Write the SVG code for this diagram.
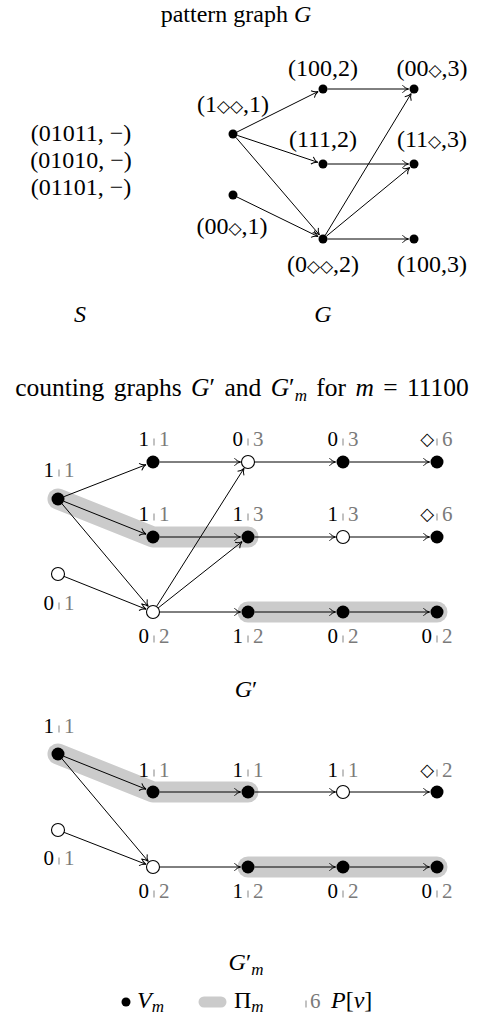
<svg xmlns="http://www.w3.org/2000/svg" width="477" height="1022" viewBox="0 0 477 1022">
<style>
.t{font-family:"Liberation Serif","DejaVu Serif",serif;font-size:24px;fill:#000}
.i{font-style:italic}
.dm{font-family:"DejaVu Sans",sans-serif;font-size:17px}
.dm2{font-family:"DejaVu Sans",sans-serif;font-size:18px}
.e{stroke:#000;stroke-width:1;fill:none;marker-end:url(#ah)}
.hl{stroke:#cbcbcb;stroke-width:21;stroke-linecap:round;stroke-linejoin:round;fill:none}
.nf{fill:#000}
.no{fill:#fff;stroke:#000;stroke-width:1.1}
.lb{font-size:21px}
.gr{fill:#7a7a7a}
.bar{fill:#9a9a9a}
.sub{font-size:17px;font-style:italic}
</style>
<defs>
<marker id="ah" viewBox="-7 -5 8 10" refX="0" refY="0" markerWidth="8" markerHeight="10" markerUnits="userSpaceOnUse" orient="auto">
<path d="M-6,-3.8 C-4.5,-1.8 -2,-0.5 0,0 C-2,0.5 -4.5,1.8 -6,3.8" fill="none" stroke="#000" stroke-width="1"/>
</marker>
</defs>
<rect width="477" height="1022" fill="#fff"/>

<!-- ===== pattern graph G ===== -->
<text class="t" x="236" y="22" text-anchor="middle">pattern graph <tspan class="i">G</tspan></text>

<g id="S-list">
<text class="t" x="81" y="141" text-anchor="middle">(01011, −)</text>
<text class="t" x="81" y="168" text-anchor="middle">(01010, −)</text>
<text class="t" x="81" y="195" text-anchor="middle">(01101, −)</text>
</g>
<text id="S-label" class="t i" x="80" y="322" text-anchor="middle">S</text>
<text id="G-label" class="t i" x="323" y="322" text-anchor="middle">G</text>

<g id="G-edges">
<line class="e" x1="237" y1="132" x2="318.1" y2="91.5"/>
<line class="e" x1="237.3" y1="135.4" x2="317.8" y2="162.3"/>
<line class="e" x1="235.9" y1="137.4" x2="319.4" y2="234.8"/>
<line class="e" x1="237" y1="197" x2="318.1" y2="236.6"/>
<line class="e" x1="327.5" y1="89" x2="408.5" y2="89"/>
<line class="e" x1="327.5" y1="164" x2="408.5" y2="164"/>
<line class="e" x1="325.3" y1="235.2" x2="411.1" y2="93.7"/>
<line class="e" x1="326.5" y1="236.1" x2="409.8" y2="167.5"/>
<line class="e" x1="327.5" y1="239" x2="408.5" y2="239"/>
</g>

<g id="g-1dd1"><circle class="nf" cx="233" cy="134" r="4.5"/><text class="t" x="233" y="112" text-anchor="middle">(1<tspan class="dm">◇◇</tspan>,1)</text></g>
<g id="g-1002"><circle class="nf" cx="323" cy="89" r="4.5"/><text class="t" x="323" y="76" text-anchor="middle">(100,2)</text></g>
<g id="g-00d3"><circle class="nf" cx="414" cy="89" r="4.5"/><text class="t" x="432" y="76" text-anchor="middle">(00<tspan class="dm">◇</tspan>,3)</text></g>
<g id="g-1112"><circle class="nf" cx="323" cy="164" r="4.5"/><text class="t" x="323" y="147" text-anchor="middle">(111,2)</text></g>
<g id="g-11d3"><circle class="nf" cx="414" cy="164" r="4.5"/><text class="t" x="432" y="147" text-anchor="middle">(11<tspan class="dm">◇</tspan>,3)</text></g>
<g id="g-00d1"><circle class="nf" cx="233" cy="195" r="4.5"/><text class="t" x="232" y="234" text-anchor="middle">(00<tspan class="dm">◇</tspan>,1)</text></g>
<g id="g-0dd2"><circle class="nf" cx="323" cy="239" r="4.5"/><text class="t" x="323" y="272" text-anchor="middle">(0<tspan class="dm">◇◇</tspan>,2)</text></g>
<g id="g-1003"><circle class="nf" cx="414" cy="239" r="4.5"/><text class="t" x="432" y="272" text-anchor="middle">(100,3)</text></g>

<!-- ===== counting graph G' ===== -->
<text class="t" x="242" y="396" text-anchor="middle" style="font-size:25.5px;word-spacing:3px">counting graphs <tspan class="i">G</tspan>′ and <tspan class="i">G</tspan>′<tspan class="sub" dy="5">m</tspan><tspan dy="-5"> for </tspan><tspan class="i">m</tspan> = 11100</text>

<g id="Gp-highlights">
<polyline class="hl" points="58,499 153,537 248,537"/>
<line class="hl" x1="248" y1="612" x2="437" y2="612"/>
</g>

<g id="Gp-edges">
<line class="e" x1="64.1" y1="496.6" x2="146" y2="464.7"/>
<line class="e" x1="64" y1="501.4" x2="146" y2="534.2"/>
<line class="e" x1="62.2" y1="504" x2="148.2" y2="606.3"/>
<line class="e" x1="64" y1="576.4" x2="146" y2="609.2"/>
<line class="e" x1="156.5" y1="606.5" x2="244" y2="468.3"/>
<line class="e" x1="158.1" y1="608" x2="242.1" y2="541.6"/>
<line class="e" x1="159.5" y1="612" x2="240.5" y2="612"/>
<line class="e" x1="159.5" y1="462" x2="240.5" y2="462"/>
<line class="e" x1="254.5" y1="462" x2="335.5" y2="462"/>
<line class="e" x1="349.5" y1="462" x2="429.5" y2="462"/>
<line class="e" x1="159.5" y1="537" x2="240.5" y2="537"/>
<line class="e" x1="254.5" y1="537" x2="335.5" y2="537"/>
<line class="e" x1="349.5" y1="537" x2="429.5" y2="537"/>
<line class="e" x1="254.5" y1="612" x2="335.5" y2="612"/>
<line class="e" x1="349.5" y1="612" x2="429.5" y2="612"/>
</g>

<g id="gp-p0"><circle class="nf" cx="58" cy="499" r="6.5"/><g transform="translate(59,477)"><text class="t lb" x="-5" text-anchor="end">1</text><rect class="bar" x="-0.6" y="-7.5" width="1.2" height="7"/><text class="t lb gr" x="5">1</text></g></g>
<g id="gp-q0"><circle class="no" cx="58" cy="574" r="6.5"/><g transform="translate(59,610)"><text class="t lb" x="-5" text-anchor="end">0</text><rect class="bar" x="-0.6" y="-7.5" width="1.2" height="7"/><text class="t lb gr" x="5">1</text></g></g>

<g id="gp-a1"><circle class="nf" cx="153" cy="462" r="6.5"/><g transform="translate(154,446)"><text class="t lb" x="-5" text-anchor="end">1</text><rect class="bar" x="-0.6" y="-7.5" width="1.2" height="7"/><text class="t lb gr" x="5">1</text></g></g>
<g id="gp-a2"><circle class="no" cx="248" cy="462" r="6.5"/><g transform="translate(248,446)"><text class="t lb" x="-5" text-anchor="end">0</text><rect class="bar" x="-0.6" y="-7.5" width="1.2" height="7"/><text class="t lb gr" x="5">3</text></g></g>
<g id="gp-a3"><circle class="nf" cx="343" cy="462" r="6.5"/><g transform="translate(343,446)"><text class="t lb" x="-5" text-anchor="end">0</text><rect class="bar" x="-0.6" y="-7.5" width="1.2" height="7"/><text class="t lb gr" x="5">3</text></g></g>
<g id="gp-a4"><circle class="nf" cx="437" cy="462" r="6.5"/><g transform="translate(437,446)"><text class="t dm2" x="-3" y="-1" text-anchor="end">◇</text><rect class="bar" x="-0.6" y="-7.5" width="1.2" height="7"/><text class="t lb gr" x="5">6</text></g></g>

<g id="gp-b1"><circle class="nf" cx="153" cy="537" r="6.5"/><g transform="translate(154,521)"><text class="t lb" x="-5" text-anchor="end">1</text><rect class="bar" x="-0.6" y="-7.5" width="1.2" height="7"/><text class="t lb gr" x="5">1</text></g></g>
<g id="gp-b2"><circle class="nf" cx="248" cy="537" r="6.5"/><g transform="translate(248,521)"><text class="t lb" x="-5" text-anchor="end">1</text><rect class="bar" x="-0.6" y="-7.5" width="1.2" height="7"/><text class="t lb gr" x="5">3</text></g></g>
<g id="gp-b3"><circle class="no" cx="343" cy="537" r="6.5"/><g transform="translate(343,521)"><text class="t lb" x="-5" text-anchor="end">1</text><rect class="bar" x="-0.6" y="-7.5" width="1.2" height="7"/><text class="t lb gr" x="5">3</text></g></g>
<g id="gp-b4"><circle class="nf" cx="437" cy="537" r="6.5"/><g transform="translate(437,521)"><text class="t dm2" x="-3" y="-1" text-anchor="end">◇</text><rect class="bar" x="-0.6" y="-7.5" width="1.2" height="7"/><text class="t lb gr" x="5">6</text></g></g>

<g id="gp-c1"><circle class="no" cx="153" cy="612" r="6.5"/><g transform="translate(154,643)"><text class="t lb" x="-5" text-anchor="end">0</text><rect class="bar" x="-0.6" y="-7.5" width="1.2" height="7"/><text class="t lb gr" x="5">2</text></g></g>
<g id="gp-c2"><circle class="nf" cx="248" cy="612" r="6.5"/><g transform="translate(248,643)"><text class="t lb" x="-5" text-anchor="end">1</text><rect class="bar" x="-0.6" y="-7.5" width="1.2" height="7"/><text class="t lb gr" x="5">2</text></g></g>
<g id="gp-c3"><circle class="nf" cx="343" cy="612" r="6.5"/><g transform="translate(343,643)"><text class="t lb" x="-5" text-anchor="end">0</text><rect class="bar" x="-0.6" y="-7.5" width="1.2" height="7"/><text class="t lb gr" x="5">2</text></g></g>
<g id="gp-c4"><circle class="nf" cx="437" cy="612" r="6.5"/><g transform="translate(437,643)"><text class="t lb" x="-5" text-anchor="end">0</text><rect class="bar" x="-0.6" y="-7.5" width="1.2" height="7"/><text class="t lb gr" x="5">2</text></g></g>

<text id="Gp-label" class="t" x="246" y="697" text-anchor="middle"><tspan class="i">G</tspan>′</text>

<!-- ===== counting graph G'_m ===== -->
<g id="Gm-highlights">
<polyline class="hl" points="58,754 153,792 248,792"/>
<line class="hl" x1="248" y1="867" x2="437" y2="867"/>
</g>

<g id="Gm-edges">
<line class="e" x1="64" y1="756.4" x2="146" y2="789.2"/>
<line class="e" x1="62.2" y1="759" x2="148.2" y2="861.3"/>
<line class="e" x1="64.1" y1="832.4" x2="146" y2="864.3"/>
<line class="e" x1="159.5" y1="792" x2="240.5" y2="792"/>
<line class="e" x1="254.5" y1="792" x2="335.5" y2="792"/>
<line class="e" x1="349.5" y1="792" x2="429.5" y2="792"/>
<line class="e" x1="159.5" y1="867" x2="240.5" y2="867"/>
<line class="e" x1="254.5" y1="867" x2="335.5" y2="867"/>
<line class="e" x1="349.5" y1="867" x2="429.5" y2="867"/>
</g>

<g id="gm-p0"><circle class="nf" cx="58" cy="754" r="6.5"/><g transform="translate(59,733)"><text class="t lb" x="-5" text-anchor="end">1</text><rect class="bar" x="-0.6" y="-7.5" width="1.2" height="7"/><text class="t lb gr" x="5">1</text></g></g>
<g id="gm-q0"><circle class="no" cx="58" cy="830" r="6.5"/><g transform="translate(59,865)"><text class="t lb" x="-5" text-anchor="end">0</text><rect class="bar" x="-0.6" y="-7.5" width="1.2" height="7"/><text class="t lb gr" x="5">1</text></g></g>

<g id="gm-d1"><circle class="nf" cx="153" cy="792" r="6.5"/><g transform="translate(154,777)"><text class="t lb" x="-5" text-anchor="end">1</text><rect class="bar" x="-0.6" y="-7.5" width="1.2" height="7"/><text class="t lb gr" x="5">1</text></g></g>
<g id="gm-d2"><circle class="nf" cx="248" cy="792" r="6.5"/><g transform="translate(248,777)"><text class="t lb" x="-5" text-anchor="end">1</text><rect class="bar" x="-0.6" y="-7.5" width="1.2" height="7"/><text class="t lb gr" x="5">1</text></g></g>
<g id="gm-d3"><circle class="no" cx="343" cy="792" r="6.5"/><g transform="translate(343,777)"><text class="t lb" x="-5" text-anchor="end">1</text><rect class="bar" x="-0.6" y="-7.5" width="1.2" height="7"/><text class="t lb gr" x="5">1</text></g></g>
<g id="gm-d4"><circle class="nf" cx="437" cy="792" r="6.5"/><g transform="translate(437,777)"><text class="t dm2" x="-3" y="-1" text-anchor="end">◇</text><rect class="bar" x="-0.6" y="-7.5" width="1.2" height="7"/><text class="t lb gr" x="5">2</text></g></g>

<g id="gm-e1"><circle class="no" cx="153" cy="867" r="6.5"/><g transform="translate(154,898)"><text class="t lb" x="-5" text-anchor="end">0</text><rect class="bar" x="-0.6" y="-7.5" width="1.2" height="7"/><text class="t lb gr" x="5">2</text></g></g>
<g id="gm-e2"><circle class="nf" cx="248" cy="867" r="6.5"/><g transform="translate(248,898)"><text class="t lb" x="-5" text-anchor="end">1</text><rect class="bar" x="-0.6" y="-7.5" width="1.2" height="7"/><text class="t lb gr" x="5">2</text></g></g>
<g id="gm-e3"><circle class="nf" cx="343" cy="867" r="6.5"/><g transform="translate(343,898)"><text class="t lb" x="-5" text-anchor="end">0</text><rect class="bar" x="-0.6" y="-7.5" width="1.2" height="7"/><text class="t lb gr" x="5">2</text></g></g>
<g id="gm-e4"><circle class="nf" cx="437" cy="867" r="6.5"/><g transform="translate(437,898)"><text class="t lb" x="-5" text-anchor="end">0</text><rect class="bar" x="-0.6" y="-7.5" width="1.2" height="7"/><text class="t lb gr" x="5">2</text></g></g>

<text id="Gm-label" class="t" x="246" y="970" text-anchor="middle"><tspan class="i">G</tspan>′<tspan class="sub" dy="5">m</tspan></text>

<!-- ===== legend ===== -->
<g id="legend">
<circle class="nf" cx="126" cy="1002" r="4.5"/>
<text class="t" x="137" y="1008"><tspan class="i">V</tspan><tspan class="sub" dy="4">m</tspan></text>
<line class="hl" x1="204" y1="1002" x2="221" y2="1002" style="stroke-width:11"/>
<text class="t" x="234" y="1008">Π<tspan class="sub" dy="4">m</tspan></text>
<rect class="bar" x="305.4" y="1000.5" width="1.2" height="7"/>
<text class="t lb gr" x="310" y="1008">6</text>
<text class="t" x="331" y="1008"><tspan class="i">P</tspan>[<tspan class="i">v</tspan>]</text>
</g>
</svg>
